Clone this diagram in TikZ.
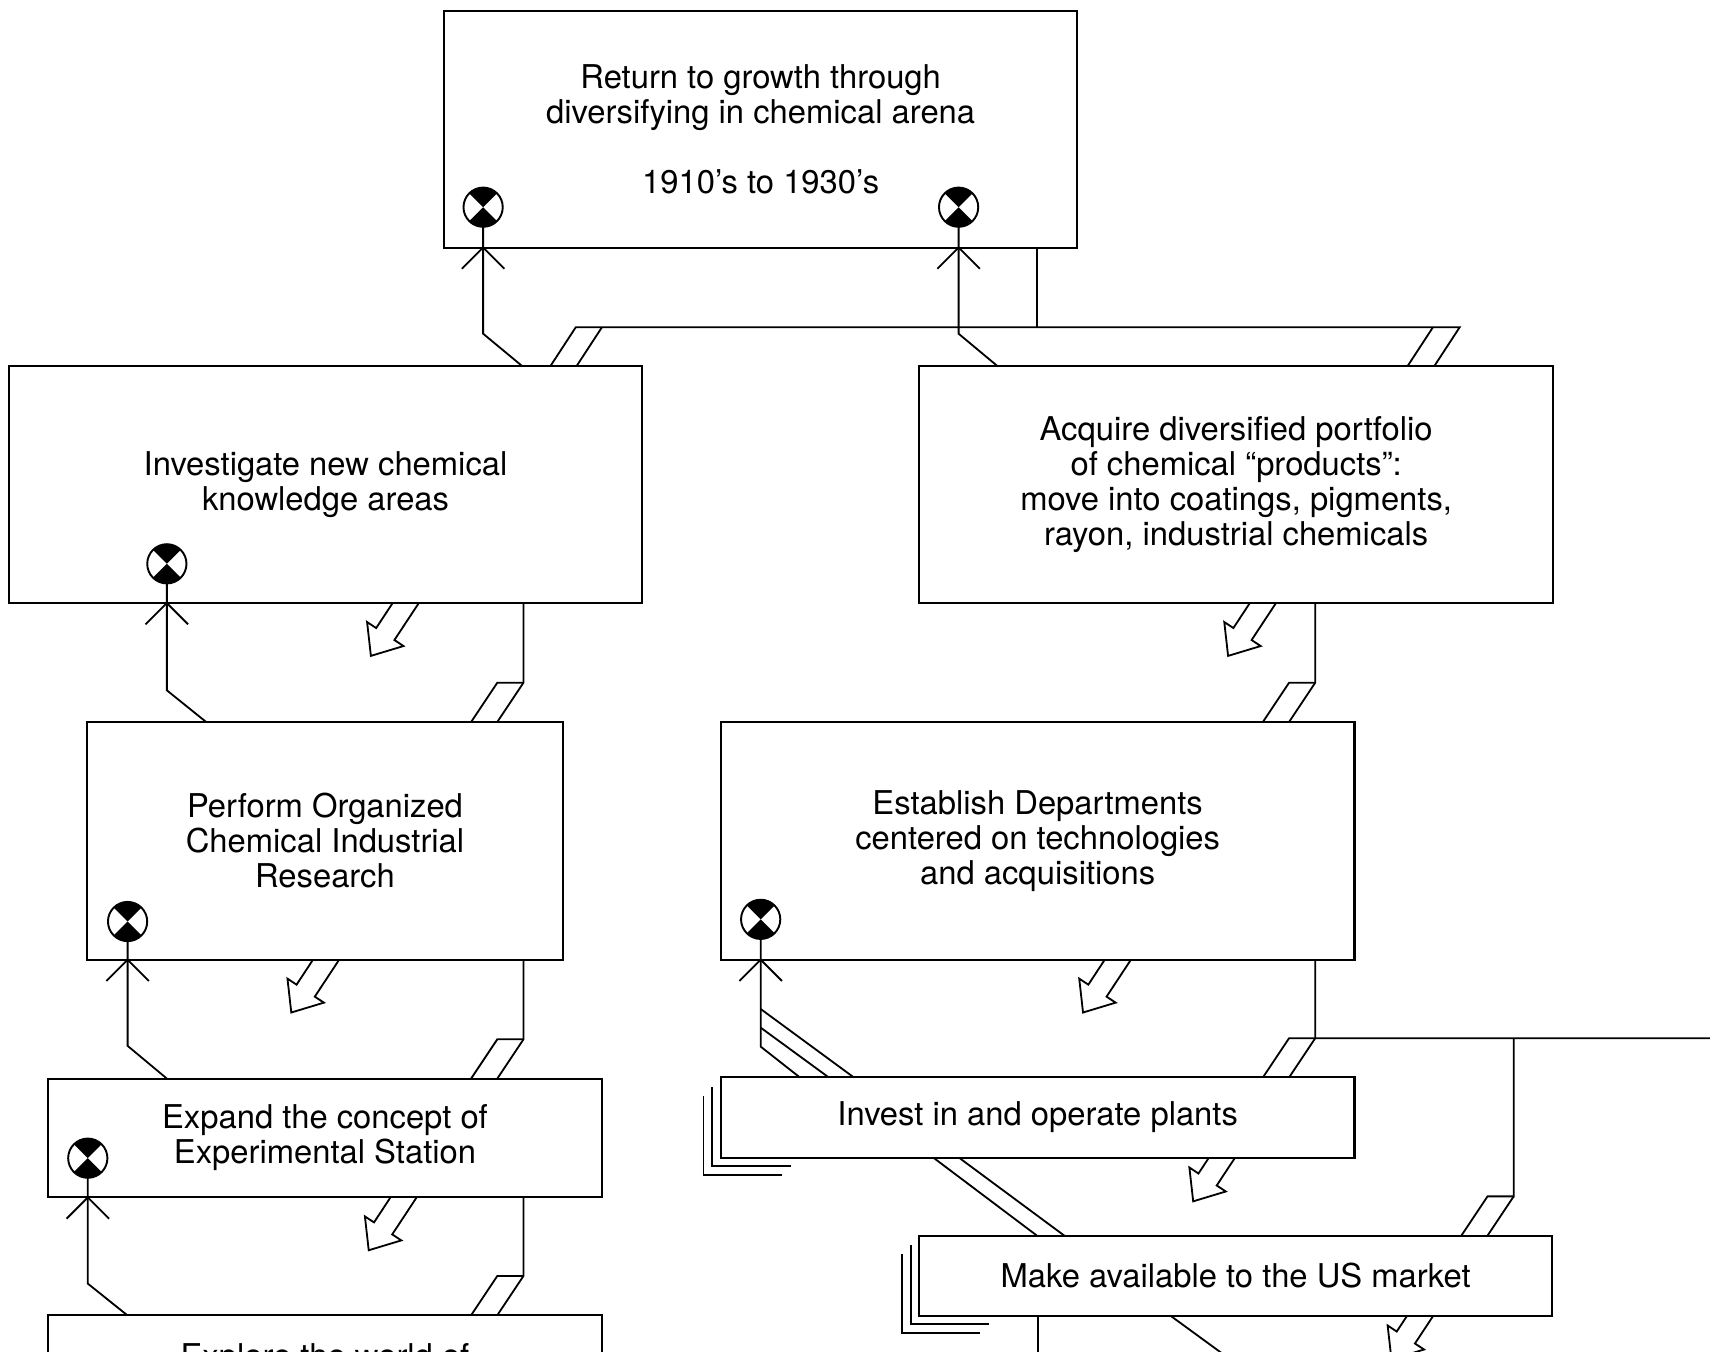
\documentclass[tikz,border=0pt]{standalone}
\usepackage{fontspec}
\setmainfont{TeX Gyre Heros}
\usetikzlibrary{calc,fit}

\tikzset{
  conn/.style={line width=0.95pt, line join=miter},
  box/.style={draw, line width=1.05pt, inner sep=0pt, outer sep=0pt},
  lbl/.style={font=\fontsize{17.1pt}{18.3pt}\selectfont, inner sep=0pt, align=center},
  mech/.style={circle, draw, line width=1pt, fill=white, minimum size=0.72cm,
    inner sep=0pt, outer sep=0pt,
    path picture={
      \fill[black] (path picture bounding box.center) -- (path picture bounding box.north west)
            -- (path picture bounding box.north east) -- cycle;
      \fill[black] (path picture bounding box.center) -- (path picture bounding box.south west)
            -- (path picture bounding box.south east) -- cycle;}},
  % open stick head of a mechanism arrow, tip at the pic origin
  pics/stickhead/.style={code={\draw[conn] (-19.5,19.5) -- (0,0) -- (19.5,19.5);}},
  % hollow output arrow leaving a box edge; #1 = shaft length
  pics/outarrow/.style={code={
    \draw[conn] (-12,0)
      -- ($#1*(-0.55,0.835)+(-8.35,-5.5)$)
      -- ($#1*(-0.55,0.835)+(-16.7,-11)$)
      -- ($#1*(-0.55,0.835)+(-13.2,20.04)$)
      -- ($#1*(-0.55,0.835)+(16.7,11)$)
      -- ($#1*(-0.55,0.835)+(8.35,5.5)$)
      -- (12,0);}},
}

\begin{document}
\begin{tikzpicture}[x=0.02cm, y=-0.02cm]
\fill[white] (0,0) rectangle (1568,1239);
\useasboundingbox (0,0) rectangle (1568,1239);

% activity boxes
\node[box, fit={(407,10) (988,227)}] (a0) {};
\node[box, fit={(8,336) (589,553)}] (a1) {};
\node[box, fit={(843,336) (1424,553)}] (a2) {};
\node[box, fit={(80,662) (516,880)}] (a11) {};
\node[box, fit={(661,662) (1242,880)}] (a21) {};
\node[box, fit={(44,989) (552,1098)}] (a12) {};
\node[box, fit={(661,988) (1242,1061.5)}] (a22) {};
\node[box, fit={(843,1133) (1423,1206.4)}] (a23) {};
\node[box, fit={(44,1206) (552,1315)}] (a13) {};

% box texts
\node[lbl] (t0) at (a0.center)
  {Return to growth through\\diversifying in chemical arena\\[18.3pt]1910’s to 1930’s};
\node[lbl] (t1) at (a1.center) {Investigate new chemical\\knowledge areas};
\node[lbl] (t2) at (a2.center)
  {Acquire diversified portfolio\\of chemical “products”:\\move into coatings, pigments,\\rayon, industrial chemicals};
\node[lbl] (t11) at (a11.center) {Perform Organized\\Chemical Industrial\\Research};
\node[lbl] (t21) at (a21.center) {Establish Departments\\centered on technologies\\and acquisitions};
\node[lbl] (t12) at (a12.center) {Expand the concept of\\Experimental Station};
\node[lbl] (t22) at (a22.center) {Invest in and operate plants};
\node[lbl] (t23) at (a23.center) {Make available to the US market};
\node[lbl, anchor=base] (t13) at (298,1254) {Explore the world of};

% stacked outlines marking repeated activities
\foreach \b in {a22,a23}{
  \draw[conn] ($(\b.south west)+(-8,-64.5)$) -- ++(0,72.5) -- ++(72,0);
  \draw[conn] ($(\b.south west)+(-16,-56.5)$) -- ++(0,72.5) -- ++(72,0);
}

% control pipe from the top box to both branches
\draw[conn] ($(a0.south west)+(544,0)$) -- ++(0,73);
\draw[conn] ($(a1.north west)+(496.5,0)$) -- ++(23.5,-36)
  -- ($(a2.north west)+(495.5,-36)$) -- ($(a2.north west)+(472,0)$);
\draw[conn] ($(a1.north west)+(520.5,0)$) -- ++(23.5,-36);
\draw[conn] ($(a2.north west)+(447.5,0)$) -- ++(23.5,-36);

% control pipes, left column
\draw[conn] ($(a1.south west)+(472,0)$) -- ++(0,73) -- ++(-24,36);
\draw[conn] ($(a11.north west)+(352,0)$) -- ++(24,-36) -- ++(24,0);
\draw[conn] ($(a11.south west)+(400,0)$) -- ++(0,73) -- ++(-24,36);
\draw[conn] ($(a12.north west)+(388,0)$) -- ++(24,-36) -- ++(24,0);
\draw[conn] ($(a12.south west)+(436,0)$) -- ++(0,72) -- ++(-24,36);
\draw[conn] ($(a13.north west)+(388,0)$) -- ++(24,-36) -- ++(24,0);

% control pipes, right column
\draw[conn] ($(a2.south west)+(363,0)$) -- ++(0,73) -- ++(-24,36);
\draw[conn] ($(a21.north west)+(497,0)$) -- ++(24,-36) -- ++(24,0);
\draw[conn] ($(a21.south west)+(545,0)$) -- ++(0,72) -- ++(-24,36);
\draw[conn] ($(a22.north west)+(497,0)$) -- ++(24,-36) -- ++(420,0);
\draw[conn] ($(a23.north west)+(497,0)$) -- ++(24,-36) -- ++(24,0) -- ++(0,-145);
\draw[conn] ($(a23.north west)+(521,0)$) -- ++(24,-36);

% mechanism markers
\node[mech] (m0a) at (443,190) {};
\node[mech] (m0b) at (879,190) {};
\node[mech] (m1) at (153,517) {};
\node[mech] (m2) at (117,845) {};
\node[mech] (m3) at (80.5,1062) {};
\node[mech] (m4) at (697.5,843) {};

% mechanism arrows
\draw[conn] (m0a.south) -- ($(m0a |- a1.north)+(0,-30)$) -- ($(a1.north west)+(471.2,0)$);
\pic at (m0a |- a0.south) {stickhead};
\draw[conn] (m0b.south) -- ($(m0b |- a2.north)+(0,-30)$) -- ($(a2.north west)+(72,0)$);
\pic at (m0b |- a0.south) {stickhead};
\draw[conn] (m1.south) -- ($(m1 |- a11.north)+(0,-29)$) -- ($(a11.north west)+(109,0)$);
\pic at (m1 |- a1.south) {stickhead};
\draw[conn] (m2.south) -- ($(m2 |- a12.north)+(0,-30)$) -- ($(a12.north west)+(109,0)$);
\pic at (m2 |- a11.south) {stickhead};
\draw[conn] (m3.south) -- ($(m3 |- a13.north)+(0,-29)$) -- ($(a13.north west)+(72.7,0)$);
\pic at (m3 |- a12.south) {stickhead};
\draw[conn] (m4.south) -- ($(m4 |- a22.north)+(0,-28.3)$) -- ($(a22.north west)+(72.5,0)$);
\draw[conn] ($(m4 |- a22.north)+(0,-45.7)$) -- ($(a22.north west)+(99,0)$);
\draw[conn] ($(m4 |- a22.north)+(0,-62.8)$) -- ($(a22.north west)+(122,0)$);
\pic at (m4 |- a21.south) {stickhead};
\draw[conn] ($(a22.south west)+(194.8,0)$) -- ($(a23.north west)+(107.8,0)$);
\draw[conn] ($(a22.south west)+(218.3,0)$) -- ($(a23.north west)+(132.9,0)$);
\draw[conn] ($(a23.south west)+(230.2,0)$) -- ++(60,43.8);
\draw[conn] ($(a23.south west)+(108.9,0)$) -- ++(0,60);

% output arrows
\pic at ($(a1.south west)+(364,0)$) {outarrow=34};
\pic at ($(a2.south west)+(315,0)$) {outarrow=34};
\pic at ($(a11.south west)+(219,0)$) {outarrow=34};
\pic at ($(a21.south west)+(364,0)$) {outarrow=34};
\pic at ($(a12.south west)+(326,0)$) {outarrow=34};
\pic at ($(a22.south west)+(459.5,0)$) {outarrow=24};
\pic at ($(a23.south west)+(459.3,0)$) {outarrow=24};
\end{tikzpicture}
\end{document}
